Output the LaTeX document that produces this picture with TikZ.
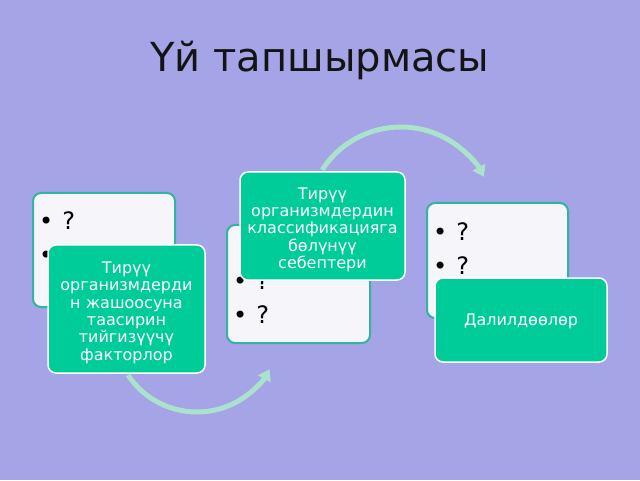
\documentclass[tikz,border=0pt]{standalone}
\usepackage{fontspec}
\setmainfont{DejaVu Sans}
\usetikzlibrary{arrows.meta}
\definecolor{bg}{RGB}{164,164,230}
\definecolor{gfill}{RGB}{0,204,153}
\definecolor{wfill}{RGB}{245,245,250}
\definecolor{wline}{RGB}{50,180,160}
\definecolor{arc}{RGB}{170,226,204}
\definecolor{ttl}{RGB}{20,20,20}
\begin{document}
\begin{tikzpicture}[x=1pt,y=1pt,
  wbox/.style={draw=wline, line width=2pt, fill=wfill, rounded corners=8pt, inner sep=0pt},
  gbox/.style={draw=white, line width=1.5pt, fill=gfill, rounded corners=8pt, inner sep=0pt,
    text=white, align=center, font=\fontsize{16}{17.4}\selectfont},
  blist/.style={anchor=west, inner sep=0pt, font=\fontsize{24}{28}\selectfont, text=black},
  curl/.style={draw=arc, line width=5pt, -{Triangle[width=14pt,length=11pt]}}
]
\fill[bg] (0,0) rectangle (640,480);
\useasboundingbox (0,0) rectangle (640,480);

\node[font=\fontsize{40}{48}\selectfont, text=ttl] (title) at (320,420) {Үй тапшырмасы};

% arcs behind the boxes
\coordinate (ctop) at (401,259);
\coordinate (cbot) at (197,151);
\draw[curl] (ctop) ++(147:94) arc[start angle=147, end angle=28, radius=94];
\draw[curl] (cbot) ++(213.7:83) arc[start angle=213.7, end angle=331, radius=83];

% group 1
\node[wbox, minimum width=142pt, minimum height=114pt] (w1) at (104,230) {};
\node[blist] (b1a) at (39,259) {•\hspace{9pt}?};
\node[blist] (b1b) at (39,225) {•\hspace{9pt}?};
\node[gbox, minimum width=157pt, minimum height=128pt] (g1) at (126.5,171)
  {\rule{0pt}{19pt}Тирүү\\организмдерди\\н жашоосуна\\таасирин\\тийгизүүчү\\факторлор};

% group 2
\node[wbox, minimum width=143pt, minimum height=118pt] (w2) at (298.5,196) {};
\node[blist] (b2a) at (233,199) {•\hspace{9pt}?};
\node[blist] (b2b) at (233,165) {•\hspace{9pt}?};
\node[gbox, minimum width=165pt, minimum height=108pt] (g2) at (322.5,254)
  {\rule{0pt}{19pt}Тирүү\\организмдердин\\классификацияга\\бөлүнүү\\себептери};

% group 3
\node[wbox, minimum width=141pt, minimum height=115pt] (w3) at (497.5,219.5) {};
\node[blist] (b3a) at (433,248) {•\hspace{9pt}?};
\node[blist] (b3b) at (433,214) {•\hspace{9pt}?};
\node[gbox, minimum width=172pt, minimum height=84pt] (g3) at (521,160) {\rule{0pt}{15pt}Далилдөөлөр};
\end{tikzpicture}
\end{document}
